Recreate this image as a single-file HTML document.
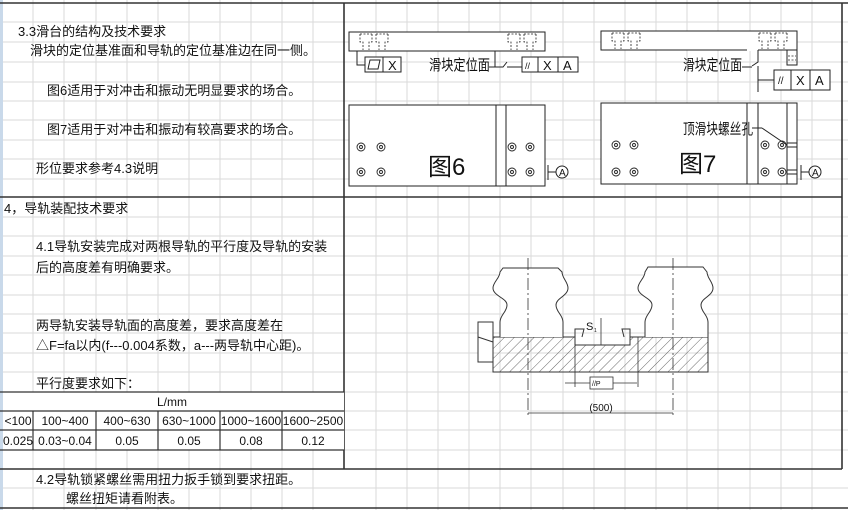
<!DOCTYPE html>
<html><head><meta charset="utf-8"><style>
html,body{margin:0;padding:0;background:#fff;}
svg{display:block;}
text{font-family:"Liberation Sans","Noto Sans CJK SC",sans-serif;fill:#111;}
</style></head><body>
<svg width="848" height="510" viewBox="0 0 848 510" xmlns="http://www.w3.org/2000/svg">
<defs>
<pattern id="h" width="7" height="7" patternUnits="userSpaceOnUse" patternTransform="rotate(45)">
<line x1="0" y1="0" x2="0" y2="7" stroke="#444" stroke-width="0.8"/></pattern>
</defs>
<rect width="848" height="510" fill="#fff"/>
<g stroke="#dadada" stroke-width="1">
<line x1="33" y1="0" x2="33" y2="510"/><line x1="64" y1="0" x2="64" y2="510"/><line x1="96" y1="0" x2="96" y2="510"/><line x1="127" y1="0" x2="127" y2="510"/><line x1="158" y1="0" x2="158" y2="510"/><line x1="189" y1="0" x2="189" y2="510"/><line x1="220" y1="0" x2="220" y2="510"/><line x1="251" y1="0" x2="251" y2="510"/><line x1="282" y1="0" x2="282" y2="510"/><line x1="313" y1="0" x2="313" y2="510"/><line x1="376" y1="0" x2="376" y2="510"/><line x1="407" y1="0" x2="407" y2="510"/><line x1="438" y1="0" x2="438" y2="510"/><line x1="469" y1="0" x2="469" y2="510"/><line x1="500" y1="0" x2="500" y2="510"/><line x1="531" y1="0" x2="531" y2="510"/><line x1="563" y1="0" x2="563" y2="510"/><line x1="594" y1="0" x2="594" y2="510"/><line x1="625" y1="0" x2="625" y2="510"/><line x1="656" y1="0" x2="656" y2="510"/><line x1="687" y1="0" x2="687" y2="510"/><line x1="718" y1="0" x2="718" y2="510"/><line x1="750" y1="0" x2="750" y2="510"/><line x1="781" y1="0" x2="781" y2="510"/><line x1="812" y1="0" x2="812" y2="510"/>
<line x1="0" y1="22" x2="848" y2="22"/><line x1="0" y1="42" x2="848" y2="42"/><line x1="0" y1="62" x2="848" y2="62"/><line x1="0" y1="82" x2="848" y2="82"/><line x1="0" y1="101" x2="848" y2="101"/><line x1="0" y1="120" x2="848" y2="120"/><line x1="0" y1="140" x2="848" y2="140"/><line x1="0" y1="159" x2="848" y2="159"/><line x1="0" y1="179" x2="848" y2="179"/><line x1="0" y1="217" x2="848" y2="217"/><line x1="0" y1="236" x2="848" y2="236"/><line x1="0" y1="256" x2="848" y2="256"/><line x1="0" y1="275" x2="848" y2="275"/><line x1="0" y1="295" x2="848" y2="295"/><line x1="0" y1="314" x2="848" y2="314"/><line x1="0" y1="333" x2="848" y2="333"/><line x1="0" y1="353" x2="848" y2="353"/><line x1="0" y1="372" x2="848" y2="372"/><line x1="0" y1="392" x2="848" y2="392"/><line x1="0" y1="411" x2="848" y2="411"/><line x1="0" y1="430" x2="848" y2="430"/><line x1="0" y1="450" x2="848" y2="450"/><line x1="0" y1="488" x2="848" y2="488"/>
</g>
<rect x="0" y="0" width="3" height="510" fill="#c9d9ea"/>
<g stroke="#333" stroke-width="1.6" fill="none">
<line x1="0" y1="3" x2="848" y2="3"/>
<line x1="344" y1="3" x2="344" y2="469"/>
<line x1="842" y1="3" x2="842" y2="469"/>
<line x1="0" y1="197" x2="842" y2="197"/>
<line x1="0" y1="469" x2="842" y2="469"/>
<line x1="0" y1="508" x2="848" y2="508"/>
</g>
<rect x="3" y="392" width="341" height="58" fill="#fff"/>
<g stroke="#333" stroke-width="1.2">
<line x1="0" y1="392" x2="344" y2="392"/><line x1="0" y1="411" x2="344" y2="411"/><line x1="0" y1="430" x2="344" y2="430"/><line x1="0" y1="450" x2="344" y2="450"/>
<line x1="33" y1="411" x2="33" y2="450"/><line x1="96" y1="411" x2="96" y2="450"/><line x1="158" y1="411" x2="158" y2="450"/><line x1="220" y1="411" x2="220" y2="450"/><line x1="282" y1="411" x2="282" y2="450"/>
</g>
<g font-size="12" text-anchor="middle">
<text x="172" y="406">L/mm</text>
<text x="18" y="425">&lt;100</text><text x="65" y="425">100~400</text><text x="127" y="425">400~630</text><text x="189" y="425">630~1000</text><text x="251" y="425">1000~1600</text><text x="313" y="425">1600~2500</text>
<text x="18" y="445">0.025</text><text x="65" y="445">0.03~0.04</text><text x="127" y="445">0.05</text><text x="189" y="445">0.05</text><text x="251" y="445">0.08</text><text x="313" y="445">0.12</text>
</g>
<g font-size="13">
<text x="18" y="36">3.3滑台的结构及技术要求</text>
<text x="30" y="55">滑块的定位基准面和导轨的定位基准边在同一侧。</text>
<text x="47" y="95">图6适用于对冲击和振动无明显要求的场合。</text>
<text x="47" y="134">图7适用于对冲击和振动有较高要求的场合。</text>
<text x="36" y="173">形位要求参考4.3说明</text>
<text x="4" y="213">4，导轨装配技术要求</text>
<text x="36" y="251">4.1导轨安装完成对两根导轨的平行度及导轨的安装</text>
<text x="36" y="272">后的高度差有明确要求。</text>
<text x="36" y="330">两导轨安装导轨面的高度差，要求高度差在</text>
<text x="36" y="350">△F=fa以内(f---0.004系数，a---两导轨中心距)。</text>
<text x="36" y="388">平行度要求如下：</text>
<text x="36" y="484">4.2导轨锁紧螺丝需用扭力扳手锁到要求扭距。</text>
<text x="66" y="503">螺丝扭矩请看附表。</text>
</g>
<!-- Fig 6 -->
<g stroke="#222" stroke-width="1" fill="#fff">
<rect x="349" y="32" width="196" height="19"/>
<rect x="349" y="105" width="196" height="81"/>
<rect x="365" y="57" width="36" height="15"/><line x1="383" y1="57" x2="383" y2="72"/>
<rect x="522" y="57" width="56" height="15"/><line x1="538" y1="57" x2="538" y2="72"/><line x1="558" y1="57" x2="558" y2="72"/>
<line x1="496" y1="105" x2="496" y2="186"/><line x1="506" y1="105" x2="506" y2="186"/>
<polyline fill="none" points="357,51 357,65 365,65"/>
<polyline fill="none" points="495,51 495,67 503,67 507,62"/>
<line x1="489" y1="67" x2="495" y2="67"/><line x1="507" y1="67" x2="522" y2="67"/>
<line x1="548" y1="165" x2="548" y2="180"/><line x1="548" y1="172" x2="556" y2="172"/>
<circle cx="562" cy="172" r="6"/>
<polygon points="370,60 380,60 378,69 368,69" fill="none"/>
</g>
<g stroke="#222" stroke-width="0.8" stroke-dasharray="2,1.5" fill="none">
<path d="M360,34v8h3v8M372,34v8h-3v8M360,34h12M376,34v8h3v8M388,34v8h-3v8M376,34h12"/>
<path d="M508,34v8h3v8M520,34v8h-3v8M508,34h12M524,34v8h3v8M536,34v8h-3v8M524,34h12"/>
</g>
<g fill="none" stroke="#222" stroke-width="0.9">
<circle cx="361" cy="147" r="4"/><circle cx="361" cy="147" r="1.5"/><circle cx="381" cy="147" r="4"/><circle cx="381" cy="147" r="1.5"/>
<circle cx="361" cy="172" r="4"/><circle cx="361" cy="172" r="1.5"/><circle cx="381" cy="172" r="4"/><circle cx="381" cy="172" r="1.5"/>
<circle cx="512" cy="147" r="4"/><circle cx="512" cy="147" r="1.5"/><circle cx="530" cy="147" r="4"/><circle cx="530" cy="147" r="1.5"/>
<circle cx="512" cy="172" r="4"/><circle cx="512" cy="172" r="1.5"/><circle cx="530" cy="172" r="4"/><circle cx="530" cy="172" r="1.5"/>
</g>
<g>
<text x="388" y="70" font-size="13">X</text>
<text x="525" y="69" font-size="9">//</text><text x="543" y="70" font-size="13">X</text><text x="563" y="70" font-size="13">A</text>
<text x="559" y="176" font-size="10">A</text>
<text x="429" y="70" font-size="15" textLength="61" lengthAdjust="spacingAndGlyphs">滑块定位面</text>
<text x="428" y="175" font-size="24">图6</text>
</g>
<!-- Fig 7 -->
<g stroke="#222" stroke-width="1" fill="#fff">
<rect x="601" y="31" width="196" height="19"/>
<rect x="601" y="103" width="196" height="81"/>
<line x1="747" y1="103" x2="747" y2="184"/><line x1="758" y1="103" x2="758" y2="184"/><line x1="787" y1="103" x2="787" y2="184"/>
<rect x="774" y="70" width="56" height="20"/><line x1="791" y1="70" x2="791" y2="90"/><line x1="810" y1="70" x2="810" y2="90"/>
</g>
<g stroke="#222" stroke-width="1" fill="none">
<line x1="747" y1="50" x2="758" y2="50" stroke="#fff" stroke-width="2"/>
<polyline points="747,50 747,50"/>
<polyline points="758,50 758,62 752,66"/>
<polyline points="787,50 787,65 797,65 797,50"/>
<line x1="758" y1="66" x2="758" y2="92"/><line x1="758" y1="80" x2="774" y2="80"/>
<line x1="742" y1="67" x2="752" y2="67"/>
<line x1="752" y1="128" x2="762" y2="128"/><line x1="762" y1="128" x2="787" y2="145"/>
<line x1="787" y1="143" x2="797" y2="143"/><line x1="787" y1="147" x2="797" y2="147"/>
<line x1="787" y1="170" x2="797" y2="170"/><line x1="787" y1="174" x2="797" y2="174"/>
<line x1="801" y1="165" x2="801" y2="180"/><line x1="801" y1="172" x2="809" y2="172"/>
<circle cx="815" cy="172" r="6"/>
</g>
<g stroke="#222" stroke-width="0.8" stroke-dasharray="2,1.5" fill="none">
<path d="M612,33v8h3v8M624,33v8h-3v8M612,33h12M628,33v8h3v8M640,33v8h-3v8M628,33h12"/>
<path d="M759,33v8h3v8M771,33v8h-3v8M759,33h12M775,33v8h3v8M787,33v8h-3v8M775,33h12"/>
<path d="M788,56h8M788,60h8"/>
</g>
<g fill="none" stroke="#222" stroke-width="0.9">
<circle cx="616" cy="145" r="4"/><circle cx="616" cy="145" r="1.5"/><circle cx="634" cy="145" r="4"/><circle cx="634" cy="145" r="1.5"/>
<circle cx="616" cy="172" r="4"/><circle cx="616" cy="172" r="1.5"/><circle cx="634" cy="172" r="4"/><circle cx="634" cy="172" r="1.5"/>
<circle cx="765" cy="145" r="4"/><circle cx="765" cy="145" r="1.5"/><circle cx="782" cy="145" r="4"/><circle cx="782" cy="145" r="1.5"/>
<circle cx="765" cy="172" r="4"/><circle cx="765" cy="172" r="1.5"/><circle cx="782" cy="172" r="4"/><circle cx="782" cy="172" r="1.5"/>
</g>
<g>
<text x="778" y="84" font-size="10">//</text><text x="796" y="85" font-size="13">X</text><text x="815" y="85" font-size="13">A</text>
<text x="812" y="176" font-size="10">A</text>
<text x="683" y="70" font-size="15" textLength="59" lengthAdjust="spacingAndGlyphs">滑块定位面</text>
<text x="683" y="134" font-size="15" textLength="70" lengthAdjust="spacingAndGlyphs">顶滑块螺丝孔</text>
<text x="679" y="172" font-size="24">图7</text>
</g>
<!-- rail cross-section -->
<g stroke="#333" stroke-width="1" fill="#fff">
<path d="M478,322 H493 V362 H478 Z"/>
<path d="M493,337 H575 V345 H630 V337 H708 V372 H493 Z" fill="url(#h)"/>
<path d="M575,337 V329 H584 L582,337 M630,337 V329 H622 L624,337" fill="none"/>
<path d="M500,337 V322 C500,315 507,312 507,305 C507,298 493,296 493,288 C493,282 500,278 500,272 L503,268 H558 L562,272 C562,278 568,282 568,288 C568,296 556,298 556,305 C556,312 563,315 563,322 V337"/>
<path d="M645,337 V322 C645,315 652,312 652,305 C652,298 638,296 638,288 C638,282 645,278 645,272 L648,267 H703 L707,272 C707,278 713,282 713,288 C713,296 701,298 701,305 C701,312 708,315 708,322 V337"/>
<line x1="478" y1="337" x2="493" y2="342" fill="none"/>
</g>
<g stroke="#333" stroke-width="0.8" fill="none">
<line x1="528" y1="258" x2="528" y2="418" stroke-dasharray="12,3,2,3"/>
<line x1="673" y1="258" x2="673" y2="418" stroke-dasharray="12,3,2,3"/>
<line x1="575" y1="345" x2="575" y2="387"/><line x1="638" y1="337" x2="638" y2="387"/>
<line x1="565" y1="383" x2="637" y2="383"/>
<line x1="528" y1="413" x2="673" y2="413"/>
<line x1="601" y1="318" x2="601" y2="345"/>
<rect x="590" y="377" width="23" height="12" fill="#fff"/>
</g>
<text x="592" y="386" font-size="7">//P</text>
<text x="586" y="330" font-size="11">S</text><text x="594" y="332" font-size="5">1</text>
<text x="601" y="411" font-size="10" text-anchor="middle">(500)</text>
</svg>
</body></html>
